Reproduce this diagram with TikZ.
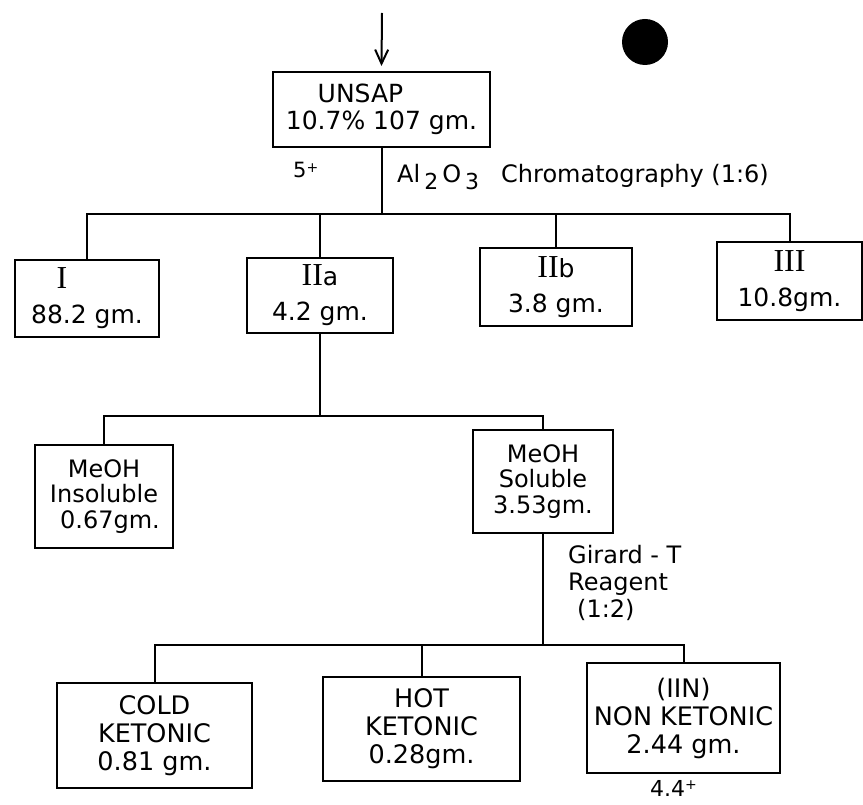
\documentclass[tikz,border=0pt]{standalone}
\usepackage{fontspec}
\setmainfont{DejaVu Sans}
\newfontfamily\numeralfont{Liberation Serif}
\usetikzlibrary{arrows.meta}

\newcommand{\rom}[1]{{\numeralfont\fontsize{32}{35}\selectfont #1}}
\newcommand{\lowsub}[1]{\raisebox{-7pt}{\fontsize{22}{22}\selectfont #1}}
\newcommand{\plusmark}{\raisebox{0.5ex}{\fontsize{14}{14}\selectfont +}}

\begin{document}
\begin{tikzpicture}[x=1pt, y=-1pt,
    box/.style={draw, line width=2pt, inner sep=0pt, align=center},
    rowone/.style={box, font=\fontsize{25}{35}\selectfont},
    rowtwo/.style={box, font=\fontsize{24}{25.5}\selectfont},
    rowthree/.style={box, font=\fontsize{25.5}{28}\selectfont},
    link/.style={line width=2pt},
    note/.style={inner sep=0pt, font=\fontsize{24}{27}\selectfont}]
    \path[use as bounding box] (0,0) rectangle (863,805);
    \fill (645,42) circle[radius=23pt];

    \node[box, font=\fontsize{25}{26.5}\selectfont, minimum width=217pt, minimum height=75pt] (unsap) at (381.5,109.5) {UNSAP\hspace*{42pt}\\10.7\% 107 gm.};

    \node[rowone, minimum width=144pt, minimum height=77pt] (frI) at (87,298.5) {\rom{I}\hspace*{50pt}\\88.2 gm.};
    \node[rowone, minimum width=146pt, minimum height=75pt] (frIIa) at (320,295.5) {\rom{II}a\\4.2 gm.};
    \node[rowone, minimum width=152pt, minimum height=78pt] (frIIb) at (556,287) {\rom{II}b\\3.8 gm.};
    \node[rowone, minimum width=145pt, minimum height=78pt] (frIII) at (789.5,281) {\rom{III}\\10.8gm.};

    \node[rowtwo, minimum width=138pt, minimum height=103pt] (insol) at (104,496.5) {MeOH\\Insoluble\\\hspace*{12pt}0.67gm.};
    \node[rowtwo, minimum width=140pt, minimum height=103pt] (sol) at (543,481.5) {MeOH\\Soluble\\3.53gm.};

    \node[rowthree, minimum width=195pt, minimum height=105pt] (cold) at (154.5,735.5) {COLD\\KETONIC\\0.81 gm.};
    \node[rowthree, minimum width=197pt, minimum height=104pt] (hot) at (421.5,729) {HOT\\KETONIC\\0.28gm.};
    \node[rowthree, minimum width=193pt, minimum height=110pt] (nonket) at (683.5,718) {(IIN)\\NON KETONIC\\2.44 gm.};

    \node[note, font=\fontsize{21}{22}\selectfont, anchor=base west] (yieldtop) at (293,178) {5\plusmark};
    \node[note, anchor=base west] (column) at (397,183) {Al\,\lowsub{2}\,O\,\lowsub{3}\hspace*{22pt}Chromatography (1:6)};
    \node[note, anchor=north west, align=left] (reagent) at (568,545) {Girard - T\\Reagent\\\hspace*{9pt}(1:2)};
    \node[note, font=\fontsize{22}{24}\selectfont, anchor=base west] (yieldlow) at (650,796) {4.4\plusmark};

    \coordinate (feed) at (382,13);
    \coordinate (splitone) at (385,214);
    \coordinate (splittwo) at (322,416);
    \coordinate (splitthree) at (549,645);

    \draw[link, -{Straight Barb[length=14pt,width=13pt]}] (feed) -- ([yshift=5pt]unsap.north);
    \draw[link] (unsap.south) -- (unsap.south |- splitone);
    \draw[link] (frI.north) -- (frI.north |- splitone) -- (frIII.north |- splitone) -- (frIII.north);
    \foreach \branch in {frIIa, frIIb}
        \draw[link] (\branch.north) -- (\branch.north |- splitone);
    \draw[link] (frIIa.south) -- (frIIa.south |- splittwo);
    \draw[link] (insol.north) -- (insol.north |- splittwo) -- (sol.north |- splittwo) -- (sol.north);
    \draw[link] (sol.south) -- (sol.south |- splitthree);
    \draw[link] (cold.north) -- (cold.north |- splitthree) -- (nonket.north |- splitthree) -- (nonket.north);
    \draw[link] (hot.north) -- (hot.north |- splitthree);
\end{tikzpicture}
\end{document}
